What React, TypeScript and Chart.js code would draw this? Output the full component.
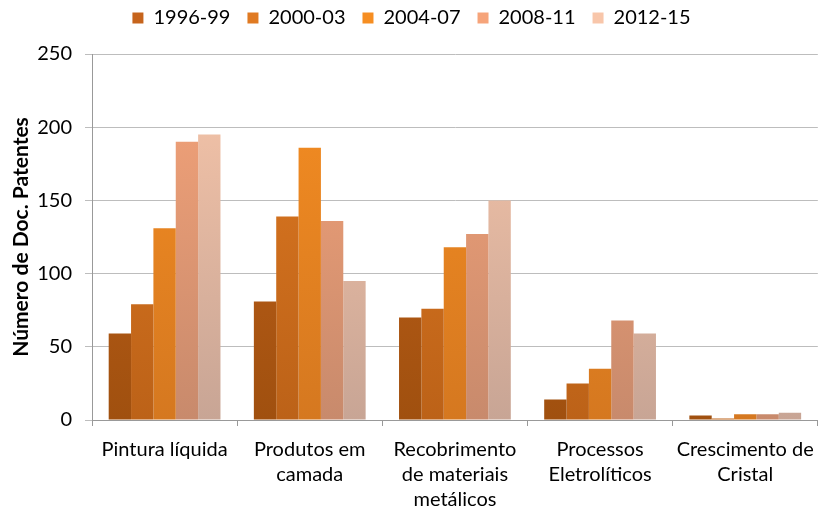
import React, { useEffect, useRef } from "react";
import { Chart, registerables } from "chart.js";

Chart.register(...registerables);

const categories: (string | string[])[] = [
  "Pintura líquida",
  ["Produtos em", "camada"],
  ["Recobrimento", "de materiais", "metálicos"],
  ["Processos", "Eletrolíticos"],
  ["Crescimento de", "Cristal"],
];
const seriesNames = ["1996-99", "2000-03", "2004-07", "2008-11", "2012-15"];
const s1996 = [59, 81, 70, 14, 3];
const s2000 = [79, 139, 76, 25, 1];
const s2004 = [131, 186, 118, 35, 4];
const s2008 = [190, 136, 127, 68, 4];
const s2012 = [195, 95, 150, 59, 5];
const yTicks = [0, 50, 100, 150, 200, 250];

const topColors = ["#C6641C", "#E07A22", "#F68E22", "#F6A47A", "#F8C6AA"];
const bottomColors = ["#A0500F", "#BC6218", "#D57820", "#C88A6C", "#C8A595"];
const FONT = "Lato, 'Open Sans', sans-serif";

const legendSpacer = {
  id: "legendSpacer",
  afterInit(chart: any) {
    const lg = chart.legend;
    if (!lg) return;
    const orig = lg.fit.bind(lg);
    lg.fit = () => {
      orig();
      lg.height += 16;
    };
  },
};

export default function App() {
  const ref = useRef<HTMLCanvasElement>(null);
  useEffect(() => {
    document.body.style.margin = "0";
    const ctx = ref.current!.getContext("2d")!;
    const data = [s1996, s2000, s2004, s2008, s2012];
    const chart = new Chart(ctx, {
      type: "bar",
      plugins: [legendSpacer],
      data: {
        labels: categories,
        datasets: data.map((d, i) => ({
          label: seriesNames[i],
          data: d,
          backgroundColor: (c: any) => {
            const area = c.chart.chartArea;
            if (!area) return topColors[i];
            const g = c.chart.ctx.createLinearGradient(0, area.top, 0, area.bottom);
            g.addColorStop(0, topColors[i]);
            g.addColorStop(1, bottomColors[i]);
            return g;
          },
          borderWidth: 0,
          categoryPercentage: 0.77,
          barPercentage: 1.0,
        })),
      },
      options: {
        animation: false,
        responsive: false,
        maintainAspectRatio: false,
        layout: { padding: { top: -9, right: 2, left: 0, bottom: 0 } },
        plugins: {
          tooltip: { enabled: false },
          legend: {
            position: "top",
            labels: {
              boxWidth: 11,
              boxHeight: 11,
              padding: 17,
              color: "#000",
              font: { family: FONT, size: 20 },
              generateLabels: () =>
                seriesNames.map((n, i) => ({
                  text: n,
                  fillStyle: topColors[i],
                  strokeStyle: topColors[i],
                  lineWidth: 0,
                  hidden: false,
                  datasetIndex: i,
                })),
            },
          },
        },
        scales: {
          x: {
            afterFit: (axis: any) => {
              axis.height = 91;
            },
            grid: {
              offset: true,
              drawOnChartArea: false,
              color: "#999",
              tickLength: 6,
            },
            border: { color: "#999" },
            ticks: {
              color: "#000",
              maxRotation: 0,
              autoSkip: false,
              padding: 11,
              font: { family: FONT, size: 20, lineHeight: 1.25 },
            },
          },
          y: {
            min: 0,
            max: 250,
            afterFit: (axis: any) => {
              axis.width = 92;
            },
            afterBuildTicks: (axis: any) => {
              axis.ticks = yTicks.map((v) => ({ value: v }));
            },
            grid: { color: "#BDBDBD", tickLength: 7 },
            border: { color: "#999" },
            ticks: {
              color: "#000",
              padding: 13,
              font: { family: FONT, size: 20 },
            },
            title: {
              display: true,
              text: "Número de Doc. Patentes",
              color: "#000",
              font: { family: FONT, size: 21, weight: "bold" },
              padding: { top: 9, bottom: 0 },
            },
          },
        },
      },
    });
    return () => chart.destroy();
  }, []);
  return (
    <div style={{ width: 825, height: 511 }}>
      <canvas ref={ref} width={825} height={511} />
    </div>
  );
}
